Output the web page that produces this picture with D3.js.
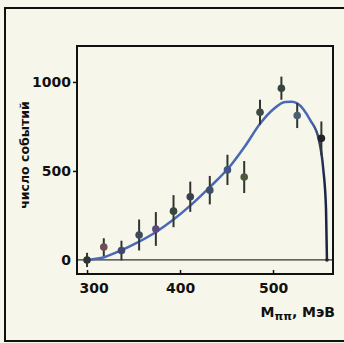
<!DOCTYPE html>
<html>
<head>
<meta charset="utf-8">
<script src="https://cdn.jsdelivr.net/npm/d3@7"></script>
<style>
  html, body { margin: 0; padding: 0; background: #f7f6ea; }
  svg { display: block; }
  .axis text { font-family: "DejaVu Sans", sans-serif; font-weight: bold; font-size: 14px; fill: #111; }
  .axis path { display: none; }
  .axis line { stroke: #111; stroke-width: 1.5; }
  .label { font-family: "DejaVu Sans", sans-serif; font-weight: bold; fill: #111; }
</style>
</head>
<body>
<div id="chart"></div>
<script>
// measured points (M_pipi in MeV, number of events, error)
const massPoints = [300, 318, 337, 356, 374, 393, 411, 432, 451, 469, 486, 509, 526, 552, 558];
const eventCounts = [0, 72, 53, 140, 174, 274, 355, 392, 506, 466, 830, 965, 811, 683, 0];
const eventErrors = [40, 50, 55, 87, 95, 90, 85, 80, 85, 90, 70, 65, 70, 95, 0];

// fitted curve
const curveMass = [300, 320, 335, 355, 375, 393, 411, 432, 454, 470, 486, 500, 513, 520, 526, 540, 549, 554, 557, 558];
const curveCounts = [0, 18, 50, 100, 160, 227, 305, 409, 528, 640, 765, 845, 888, 889, 880, 786, 682, 511, 284, 0];

const xTicks = [300, 400, 500];
const yTicks = [0, 500, 1000];

// point colours vary a bit in the print
const pointColors = ['#2e3436', '#6b4f55', '#3b4a70', '#3d4a5a', '#5a4a80', '#3a4540', '#3b3f4a',
  '#3d4f6a', '#3f5588', '#4b5a3a', '#3f4a45', '#364540', '#4a6070', '#222222', '#222222'];

const W = 344, H = 343;
const margin = {top: 46, right: 11, bottom: 69, left: 77};
const width = W - margin.left - margin.right;
const height = H - margin.top - margin.bottom;

const svg = d3.select('#chart').append('svg')
  .attr('width', W)
  .attr('height', H);

// outer frame of the figure (open on the right)
svg.append('path')
  .attr('d', `M${W},8 H5 V341 H${W}`)
  .attr('fill', 'none')
  .attr('stroke', '#111')
  .attr('stroke-width', 2);

const chart = svg.append('g')
  .attr('transform', `translate(${margin.left}, ${margin.top})`);

const x = d3.scaleLinear().domain([289.2, 564.5]).range([0, width]);
const y = d3.scaleLinear().domain([-79, 1202]).range([height, 0]);

// zero line
chart.append('line')
  .attr('x1', 0).attr('x2', width)
  .attr('y1', y(0)).attr('y2', y(0))
  .attr('stroke', '#333')
  .attr('stroke-width', 1.2);

// axes
const yAxis = chart.append('g')
  .attr('class', 'axis')
  .call(d3.axisLeft(y).tickValues(yTicks).tickSize(4).tickPadding(2).tickFormat(d3.format('d')));
yAxis.selectAll('.tick').filter(d => d === 0).select('line').remove();

const xAxis = chart.append('g')
  .attr('class', 'axis')
  .attr('transform', `translate(0, ${height})`)
  .call(d3.axisBottom(x).tickValues(xTicks).tickSizeInner(-4).tickSizeOuter(0).tickPadding(9).tickFormat(d3.format('d')));
xAxis.selectAll('.tick').filter(d => d === 300).select('text')
  .attr('text-anchor', 'start')
  .attr('x', x(289.2) - x(300) + 2);

// plot frame
chart.append('rect')
  .attr('width', width)
  .attr('height', height)
  .attr('fill', 'none')
  .attr('stroke', '#111')
  .attr('stroke-width', 2);

// curve, the steep tail prints darker
const grad = svg.append('defs').append('linearGradient')
  .attr('id', 'tail')
  .attr('gradientUnits', 'userSpaceOnUse')
  .attr('x1', x(540)).attr('x2', x(556))
  .attr('y1', 0).attr('y2', 0);
grad.append('stop').attr('offset', 0).attr('stop-color', '#4a68b5');
grad.append('stop').attr('offset', 1).attr('stop-color', '#1c2444');

const line = d3.line()
  .x(d => x(d[0]))
  .y(d => y(d[1]))
  .curve(d3.curveMonotoneX);

chart.append('path')
  .datum(curveMass.map((m, i) => [m, curveCounts[i]]))
  .attr('d', line)
  .attr('fill', 'none')
  .attr('stroke', 'url(#tail)')
  .attr('stroke-width', 2.5);

// data points with error bars
const pts = massPoints.map((m, i) => ({m, n: eventCounts[i], e: eventErrors[i], c: pointColors[i]}));

chart.selectAll('.err')
  .data(pts.filter(d => d.e > 0))
  .enter().append('line')
  .attr('class', 'err')
  .attr('x1', d => x(d.m)).attr('x2', d => x(d.m))
  .attr('y1', d => y(d.n - d.e)).attr('y2', d => y(d.n + d.e))
  .attr('stroke', '#2f3530')
  .attr('stroke-width', 2);

chart.selectAll('.pt')
  .data(pts)
  .enter().append('circle')
  .attr('class', 'pt')
  .attr('cx', d => x(d.m))
  .attr('cy', d => y(d.n))
  .attr('r', d => d.e > 0 ? 3.8 : 1.8)
  .attr('fill', d => d.c);

// axis titles
svg.append('text')
  .attr('class', 'label')
  .attr('transform', 'translate(29, 155) rotate(-90)')
  .attr('text-anchor', 'middle')
  .style('font-size', '12.5px')
  .text('число событий');

const xt = svg.append('text')
  .attr('class', 'label')
  .attr('x', 335)
  .attr('y', 317)
  .attr('text-anchor', 'end')
  .style('font-size', '14px');
xt.append('tspan').text('M');
xt.append('tspan').attr('dy', 3).style('font-size', '11px').text('ππ');
xt.append('tspan').attr('dy', -3).text(', МэВ');
</script>
</body>
</html>
